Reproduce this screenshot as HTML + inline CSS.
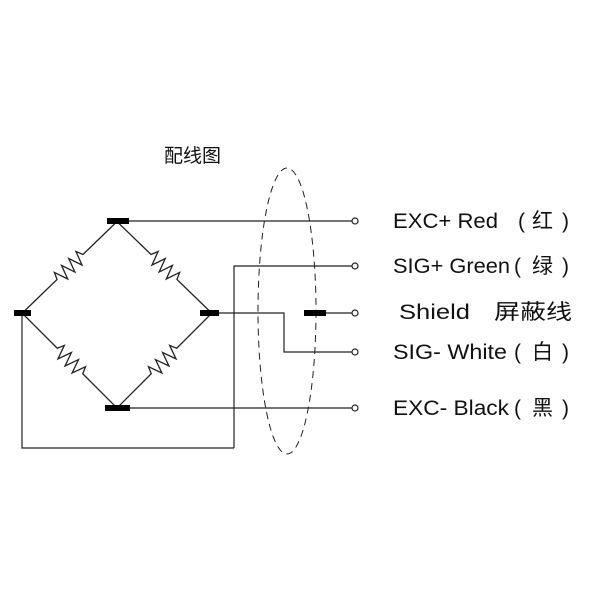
<!DOCTYPE html><html><head><style>body{margin:0;background:#fff}svg{display:block}text{font-family:"Liberation Sans","Noto Sans CJK SC",sans-serif;fill:#111}</style></head><body>
<svg width="600" height="600" viewBox="0 0 600 600">
<defs><g id="r"><path d="M-66,0 H-18 L-15,-7 L-10,7 L-5,-7 L0,7 L5,-7 L10,7 L15,-7 L18,0 H66" fill="none" stroke="#222" stroke-width="1.3"/></g></defs>
<g stroke="#222" stroke-width="1.2" fill="none">
<use href="#r" transform="translate(70,267) rotate(-44)"/>
<use href="#r" transform="translate(164,267) rotate(44)"/>
<use href="#r" transform="translate(70,361) rotate(45)"/>
<use href="#r" transform="translate(164,361) rotate(-45)"/>
<path d="M118,221 H352"/>
<path d="M234,448 V266 H352"/>
<path d="M22,313 V448 H234"/>
<path d="M209,313 H284 V352 H352"/>
<path d="M326,313 H352"/>
<path d="M118,408 H352"/>
<ellipse cx="287" cy="311" rx="29" ry="143" stroke-dasharray="7,5" stroke-width="1"/>
<g fill="#fff"><circle cx="355" cy="221" r="3"/><circle cx="355" cy="266" r="3"/><circle cx="355" cy="313" r="3"/><circle cx="355" cy="352" r="3"/><circle cx="355" cy="408" r="3"/></g>
</g>
<g fill="#000"><rect x="107" y="218" width="22" height="6"/><rect x="14" y="310" width="17" height="6"/><rect x="200" y="310" width="19" height="6"/><rect x="105" y="405" width="25" height="6"/><rect x="304" y="310" width="22" height="6"/></g>
<g font-size="21">
<text x="393" y="228" textLength="105" lengthAdjust="spacingAndGlyphs">EXC+ Red</text>
<text x="518" y="228">(</text><text x="532" y="228">红</text><text x="562" y="228">)</text>
<text x="393" y="273" textLength="117" lengthAdjust="spacingAndGlyphs">SIG+ Green</text>
<text x="514" y="273">(</text><text x="532" y="273">绿</text><text x="562" y="273">)</text>
<text x="399" y="319" textLength="71" lengthAdjust="spacingAndGlyphs">Shield</text>
<text x="494" y="319" textLength="78" lengthAdjust="spacingAndGlyphs">屏蔽线</text>
<text x="393" y="359" textLength="114" lengthAdjust="spacingAndGlyphs">SIG- White</text>
<text x="514" y="359">(</text><text x="532" y="359">白</text><text x="562" y="359">)</text>
<text x="393" y="415" textLength="116" lengthAdjust="spacingAndGlyphs">EXC- Black</text>
<text x="514" y="415">(</text><text x="532" y="415">黑</text><text x="562" y="415">)</text>
</g>
<text x="164" y="162" font-size="19">配线图</text>
</svg></body></html>
